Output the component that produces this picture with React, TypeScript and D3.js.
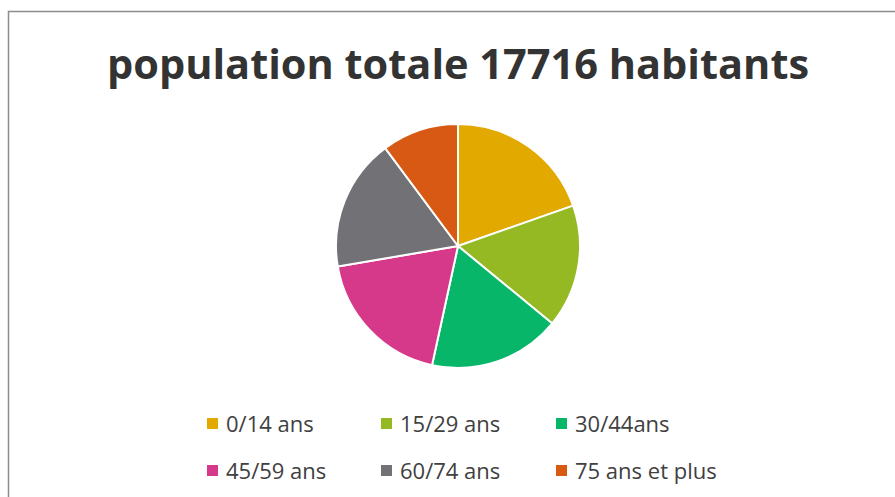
import React from "react";
import * as d3 from "d3";

const categories = ["0/14 ans", "15/29 ans", "30/44ans", "45/59 ans", "60/74 ans", "75 ans et plus"];
const values = [3479, 2889, 3095, 3347, 3103, 1803];
const colors = ["#E2A900", "#95B923", "#08B66A", "#D6398A", "#727176", "#D85913"];
const title = "population totale 17716 habitants";

export default function App() {
  const W = 895, H = 497;
  const cx = 458, cy = 246, r = 122;
  const pie = d3.pie<number>().sort(null).value((d) => d)(values);
  const arc = d3.arc<d3.PieArcDatum<number>>().innerRadius(0).outerRadius(r);
  const legendX = [207, 381, 556];
  const legendY = [418, 465];
  return (
    <svg width={W} height={H} style={{ position: "absolute", left: 0, top: 0 }}>
      <rect x={0} y={0} width={W} height={H} fill="#fff" />
      <path d={`M8.5,${H} L8.5,11.5 L${W},11.5`} fill="none" stroke="#8c8c8c" strokeWidth={1.5} />
      <text x={458} y={79} textAnchor="middle" fontFamily="'Open Sans', sans-serif" fontWeight={700} fontSize={41.5} fill="#333333">{title}</text>
      <g transform={`translate(${cx},${cy})`}>
        {pie.map((p, i) => (
          <path key={i} d={arc(p) || ""} fill={colors[i]} stroke="#fff" strokeWidth={2} strokeLinejoin="round" />
        ))}
      </g>
      {categories.map((c, i) => {
        const col = i % 3, row = Math.floor(i / 3);
        const x = legendX[col], y = legendY[row];
        return (
          <g key={c}>
            <rect x={x} y={y} width={11} height={11} fill={colors[i]} />
            <text x={x + 19} y={y + 14} fontFamily="'Open Sans', sans-serif" fontSize={22} fill="#404040">{c}</text>
          </g>
        );
      })}
    </svg>
  );
}
